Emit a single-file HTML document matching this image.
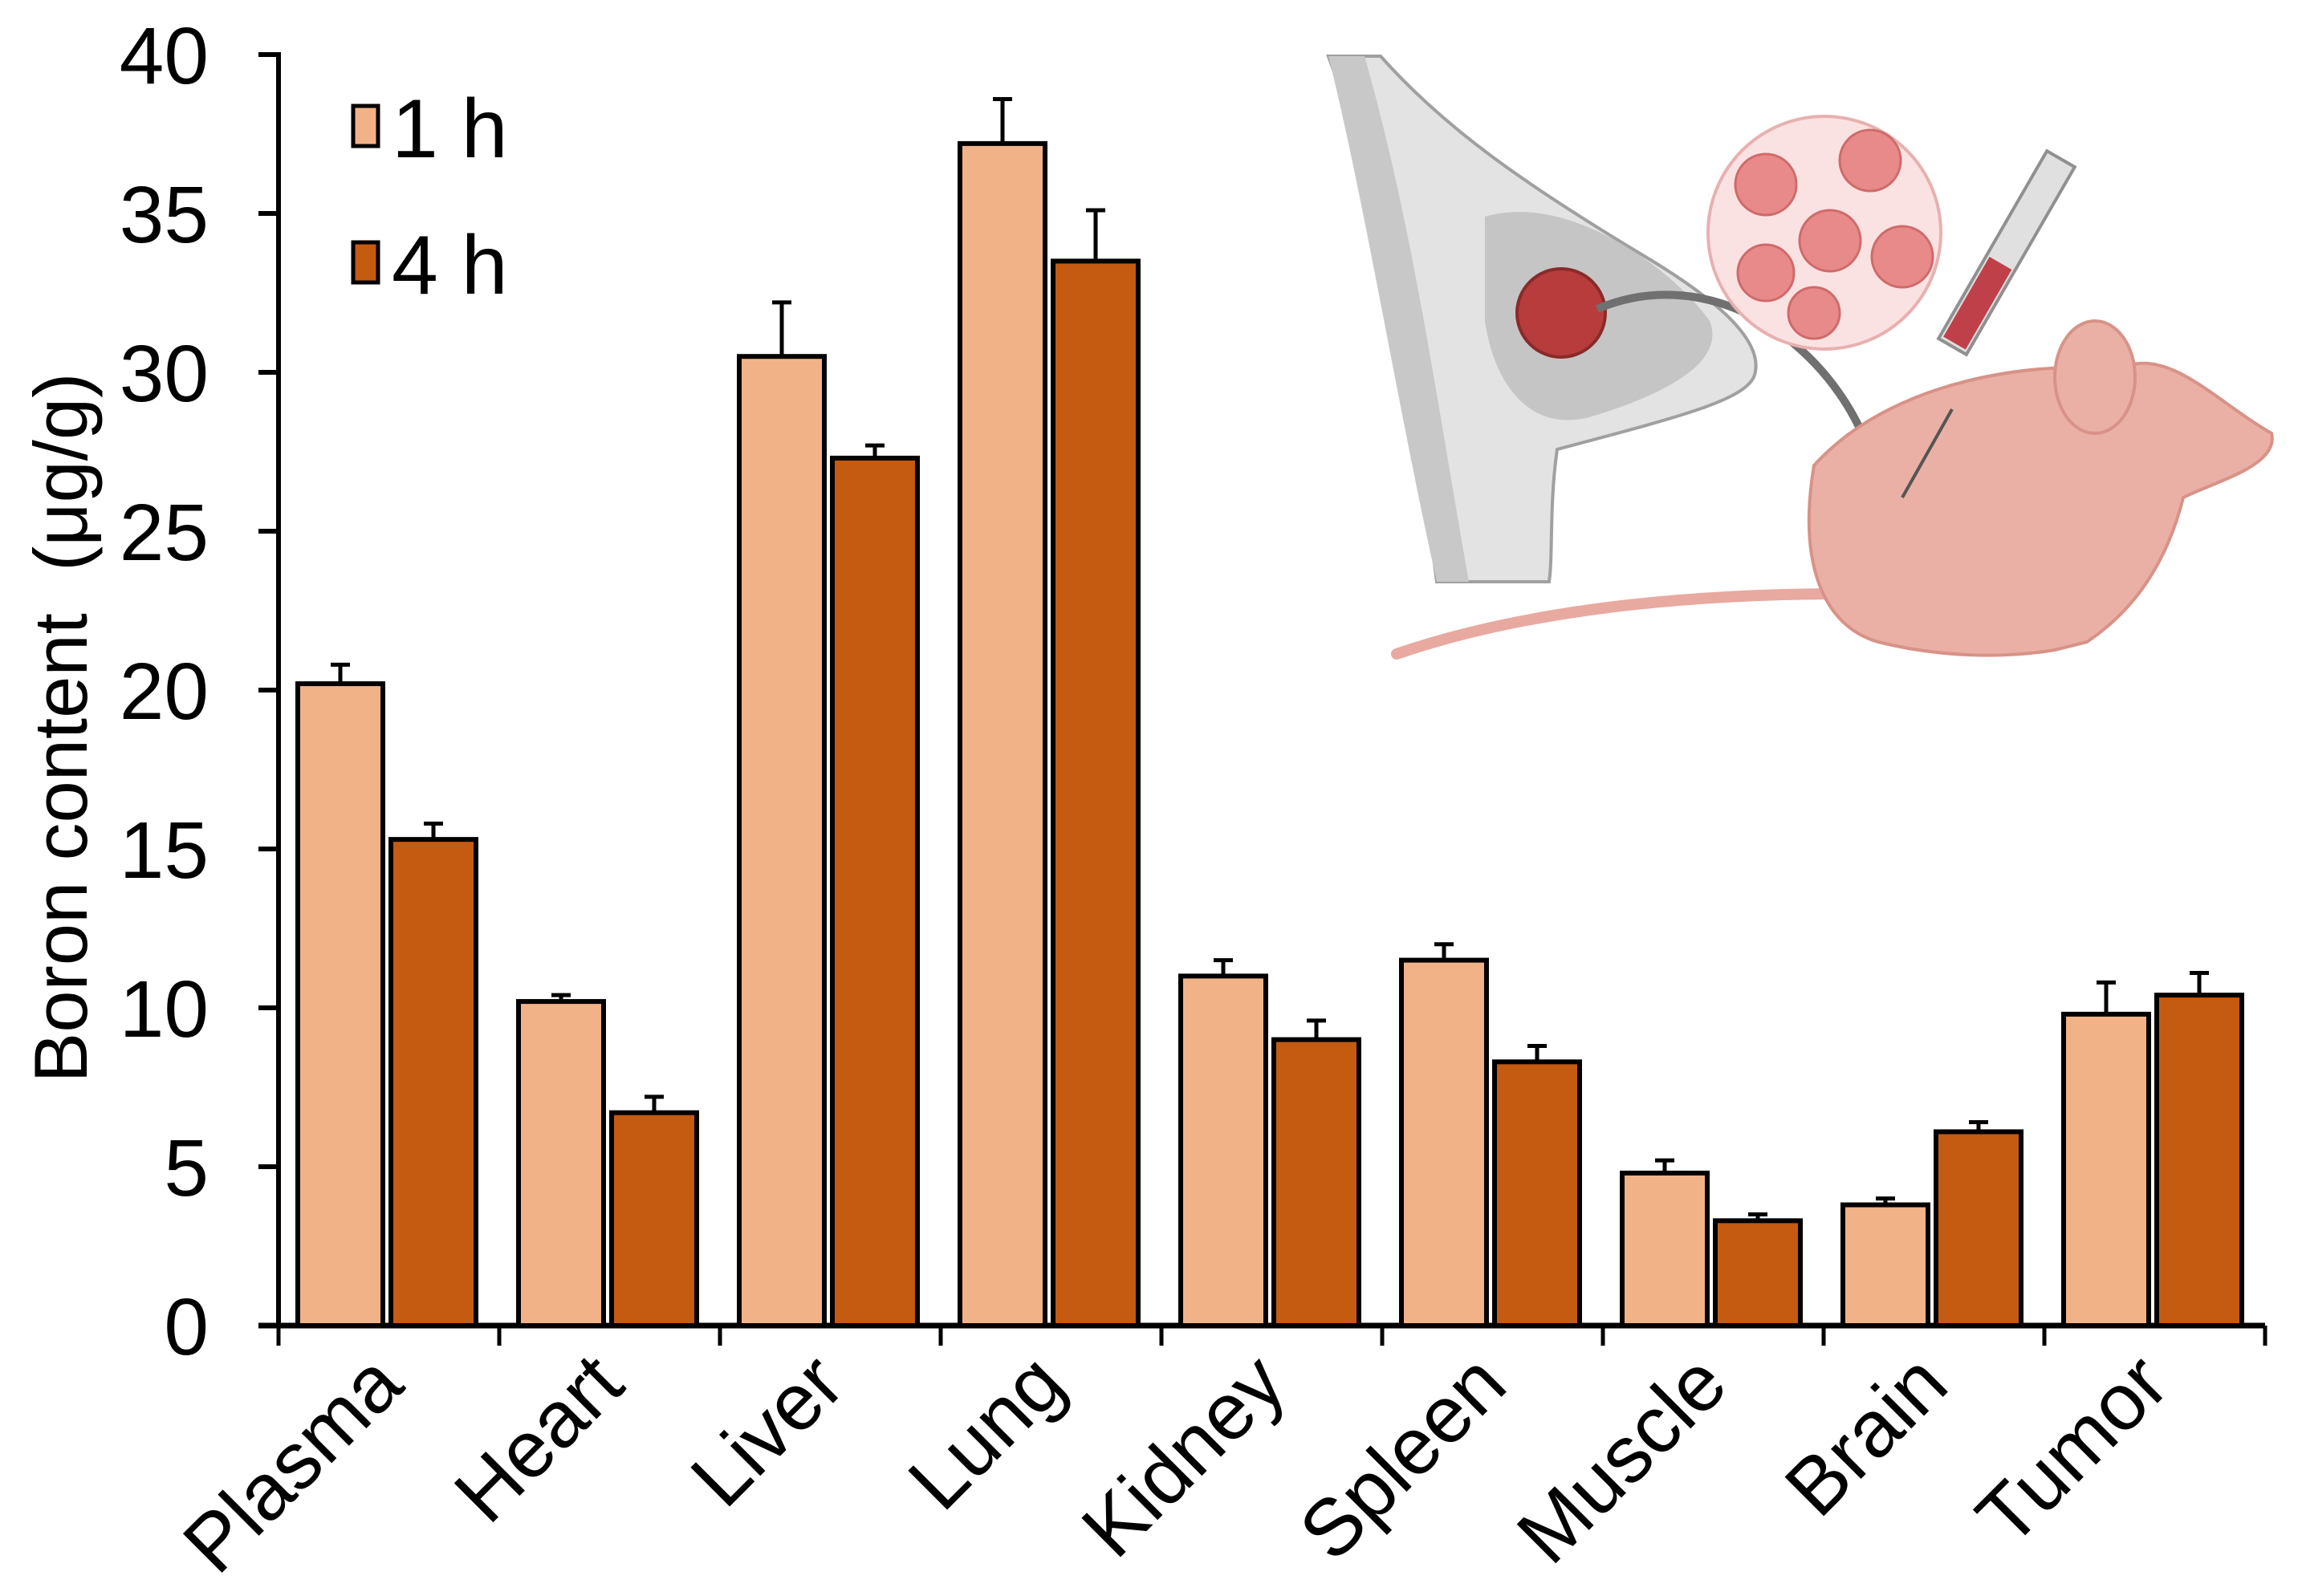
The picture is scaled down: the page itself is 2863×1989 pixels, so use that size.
<!DOCTYPE html>
<html><head><meta charset="utf-8"><style>
html,body{margin:0;padding:0;background:#fff;}
svg{display:block;font-family:"Liberation Sans",Arial,sans-serif;}
</style></head><body>
<svg id="chart" width="2863" height="1989" viewBox="0 0 2863 1989" xmlns="http://www.w3.org/2000/svg">
<g id="illus">
  <path d="M1655,70 L1720,70 C1800,160 1900,230 2050,320 C2150,380 2200,430 2185,470 C2170,500 2090,520 1940,560 C1930,630 1935,690 1930,725 L1790,725 C1760,500 1740,300 1655,70 Z" fill="#e3e3e3" stroke="#a0a0a0" stroke-width="4"/>
  <path d="M1655,70 C1700,250 1740,500 1790,725 L1830,725 C1790,500 1760,280 1700,70 Z" fill="#c8c8c8"/>
  <path d="M1850,270 C1950,240 2080,330 2130,400 C2150,450 2080,490 1980,520 C1900,540 1860,470 1850,400 Z" fill="#bdbdbd" opacity="0.8"/>
  <circle cx="1945" cy="390" r="55" fill="#b83c3c" stroke="#8a2a2a" stroke-width="4"/>
  <path d="M1990,385 C2120,330 2260,410 2320,540" fill="none" stroke="#707070" stroke-width="10"/>
  <polygon points="2300,540 2345,540 2330,575" fill="#707070"/>
  <circle cx="2273" cy="290" r="145" fill="#fbe2e2" stroke="#e8b0b0" stroke-width="4"/>
  <g fill="#e88a8a" stroke="#d06a6a" stroke-width="3">
    <circle cx="2200" cy="230" r="38"/><circle cx="2330" cy="200" r="38"/><circle cx="2280" cy="300" r="38"/><circle cx="2200" cy="340" r="35"/><circle cx="2370" cy="320" r="38"/><circle cx="2260" cy="390" r="32"/>
  </g>
  <path d="M1740,815 C1900,760 2100,740 2300,740" fill="none" stroke="#e8a9a0" stroke-width="14" stroke-linecap="round"/>
  <path d="M2260,580 C2360,470 2540,450 2640,460 C2700,430 2760,500 2830,540 C2840,580 2760,600 2720,620 C2700,700 2660,760 2600,800 L2560,810 C2500,820 2420,820 2340,800 C2270,780 2240,700 2260,580 Z" fill="#eab0a6" stroke="#d89287" stroke-width="4"/>
  <ellipse cx="2610" cy="470" rx="50" ry="70" fill="#eab0a6" stroke="#d89287" stroke-width="4"/>
  <rect x="2480" y="180" width="40" height="270" fill="#e0e0e0" stroke="#909090" stroke-width="4" transform="rotate(30 2500 315)"/>
  <rect x="2484" y="330" width="32" height="115" fill="#c0404a" transform="rotate(30 2500 315)"/>
  <line x1="2432" y1="510" x2="2370" y2="620" stroke="#555" stroke-width="4"/>
</g>
<g id="axes"></g>
<g id="bars"></g>
<g id="legend">
  <rect x="440" y="132" width="31" height="50" fill="#f2b287" stroke="#000" stroke-width="5"/>
  <text x="488" y="196" font-size="104">1 h</text>
  <rect x="440" y="302" width="31" height="50" fill="#c55a11" stroke="#000" stroke-width="5"/>
  <text x="488" y="366" font-size="104">4 h</text>
</g>
<text transform="translate(108,907) rotate(-90)" text-anchor="middle" font-size="94" xml:space="preserve">Boron content  (μg/g)</text>
</svg>
<script>
const categories = ["Plasma","Heart","Liver","Lung","Kidney","Spleen","Muscle","Brain","Tumor"];
const values1h = [20.2,10.2,30.5,37.2,11.0,11.5,4.8,3.8,9.8];
const err1h = [0.6,0.2,1.7,1.4,0.5,0.5,0.4,0.2,1.0];
const values4h = [15.3,6.7,27.3,33.5,9.0,8.3,3.3,6.1,10.4];
const err4h = [0.5,0.5,0.4,1.6,0.6,0.5,0.2,0.3,0.7];
const yTicks = [0,5,10,15,20,25,30,35,40];

const NS="http://www.w3.org/2000/svg";
const X0=347, Y0=1652, Ytop=68, CAT=275, YMAX=40;
const y = v => Y0 - (v/YMAX)*(Y0-Ytop);
const xCat = i => X0 + i*CAT;
function mk(tag, attrs, parent){const e=document.createElementNS(NS,tag);for(const k in attrs)e.setAttribute(k,attrs[k]);parent.appendChild(e);return e;}
const axes=document.getElementById('axes'), bars=document.getElementById('bars');

const yAxis=mk('line',{x1:X0,y1:Ytop-3,x2:X0,y2:Y0+3,stroke:'#000','stroke-width':6},axes);


const xAxis=mk('line',{x1:X0-25,y1:Y0,x2:xCat(categories.length),y2:Y0,stroke:'#000','stroke-width':7},axes);



yTicks.forEach(t=>{
  const tk=mk('line',{x1:X0-25,y1:y(t),x2:X0,y2:y(t),stroke:'#000','stroke-width':6},axes);
  
  
  const lb=mk('text',{x:260,y:y(t)+36,'text-anchor':'end','font-size':100},axes);
  lb.textContent=t;
  
  
});
for(let i=0;i<=categories.length;i++){
  const tk=mk('line',{x1:xCat(i),y1:Y0,x2:xCat(i),y2:Y0+25,stroke:'#000','stroke-width':5},axes);
  
  
}
categories.forEach((c,i)=>{
  const cx=xCat(i)+CAT/2+22, cy=Y0+78;
  const lb=mk('text',{x:cx,y:cy,'text-anchor':'end','font-size':100,transform:`rotate(-45 ${cx} ${cy})`},axes);
  lb.textContent=c;
  
  
});

function drawBar(i,v,e,off,color,series){
  const bx=xCat(i)+off, w=106;
  const r=mk('rect',{x:bx,y:y(v),width:w,height:Y0-y(v),fill:color,stroke:'#000','stroke-width':6},bars);
  
  
  const cx=bx+w/2;
  const el=mk('path',{d:`M${cx},${y(v)} V${y(v+e)} M${cx-12},${y(v+e)} H${cx+12}`,stroke:'#000','stroke-width':5,fill:'none'},bars);
  
  
}
categories.forEach((c,i)=>{
  drawBar(i,values1h[i],err1h[i],24,'#f2b287','1h');
  drawBar(i,values4h[i],err4h[i],140,'#c55a11','4h');
});
</script>
</body></html>
